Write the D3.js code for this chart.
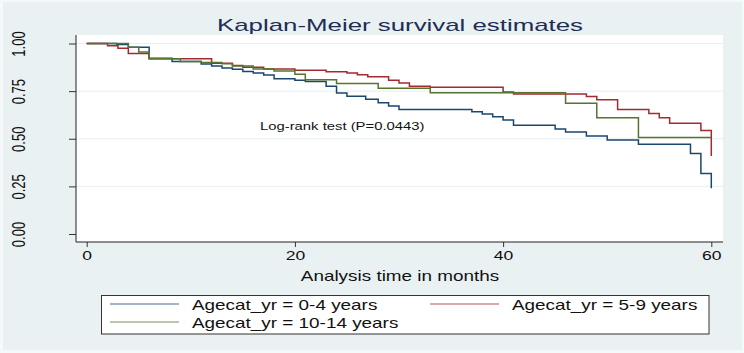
<!DOCTYPE html>
<html lang="en">
<head>
    <meta charset="UTF-8">
    <title>Kaplan-Meier survival estimates</title>
    <script src="https://d3js.org/d3.v7.min.js"></script>
    <style>
        body { margin: 0; background: #f5f9fa; }
        svg { display: block; font-family: "Liberation Sans", Arial, sans-serif; }
        .km-line { fill: none; stroke-width: 1.5; }
        .grid { stroke: #e6eff1; stroke-width: 1; }
    </style>
</head>
<body>
    <div id="chart"></div>

    <script>
        const width = 744, height = 353;

        // survival estimates (time in months, S(t))
        const months04 = [0, 2.9, 4, 6, 8.2, 11, 12, 13, 14, 15, 16, 17, 18, 20, 21, 23, 24, 25, 26.8, 28, 29, 30, 37, 38, 39, 40, 41, 45, 46, 48, 50, 53, 58, 59, 60];
        const surv04 = [1, 0.995, 0.98, 0.922, 0.905, 0.893, 0.882, 0.871, 0.865, 0.853, 0.845, 0.835, 0.815, 0.807, 0.80, 0.775, 0.74, 0.723, 0.707, 0.689, 0.672, 0.654, 0.642, 0.63, 0.616, 0.598, 0.571, 0.551, 0.536, 0.515, 0.493, 0.471, 0.422, 0.317, 0.24];

        const months59 = [0, 2, 3, 4, 6, 12, 14, 15, 17, 20, 23, 25, 26, 27, 29, 30, 31, 33, 40, 41, 48, 49, 51, 54, 55, 56, 59, 60];
        const surv59 = [1, 0.988, 0.975, 0.947, 0.92, 0.896, 0.884, 0.875, 0.866, 0.86, 0.852, 0.845, 0.836, 0.825, 0.807, 0.792, 0.775, 0.77, 0.745, 0.735, 0.722, 0.705, 0.653, 0.633, 0.61, 0.582, 0.543, 0.41];

        const months1014 = [0, 4, 5, 6, 9, 11, 13, 14, 16, 18, 20, 21, 24, 28, 33, 46, 49, 53, 60];
        const surv1014 = [1, 0.98, 0.956, 0.92, 0.906, 0.90, 0.894, 0.882, 0.866, 0.855, 0.838, 0.81, 0.79, 0.765, 0.742, 0.687, 0.61, 0.507, 0.507];

        const groupLabels = ["Agecat_yr = 0-4 years", "Agecat_yr = 5-9 years", "Agecat_yr = 10-14 years"];
        const groupColors = ["#1a476f", "#a32a30", "#55752f"];
        const xTicks = [0, 20, 40, 60];
        const yTicks = [0, 0.25, 0.5, 0.75, 1];

        const series = [
            { label: groupLabels[0], color: groupColors[0], pts: months04.map((t, i) => ({ t, s: surv04[i] })) },
            { label: groupLabels[1], color: groupColors[1], pts: months59.map((t, i) => ({ t, s: surv59[i] })) },
            { label: groupLabels[2], color: groupColors[2], pts: months1014.map((t, i) => ({ t, s: surv1014[i] })) }
        ];

        // the picture is stretched sideways, so text is too
        const sx = 1.35;

        const plot = { left: 76, right: 723, top: 35, bottom: 242 };
        const x = d3.scaleLinear().domain([0, 60]).range([86.7, 711.3]);
        const y = d3.scaleLinear().domain([0, 1]).range([234, 43.5]);

        const svg = d3.select("#chart").append("svg")
            .attr("width", width).attr("height", height);

        // graph region + plot region
        svg.append("rect").attr("x", 3).attr("y", 2).attr("width", 739).attr("height", 348)
            .attr("fill", "#e9f1f3");
        svg.append("rect").attr("x", plot.left).attr("y", plot.top)
            .attr("width", plot.right - plot.left).attr("height", plot.bottom - plot.top)
            .attr("fill", "#fff");

        // gridlines
        svg.selectAll(".grid").data(yTicks.filter(d => d > 0)).enter()
            .append("line").attr("class", "grid")
            .attr("x1", plot.left).attr("x2", plot.right)
            .attr("y1", d => y(d)).attr("y2", d => y(d));

        // title
        svg.append("text")
            .attr("transform", `translate(400,31) scale(1.52,1)`)
            .attr("text-anchor", "middle").attr("font-size", 17).attr("fill", "#1e2d53")
            .text("Kaplan-Meier survival estimates");

        // axes
        const xAxis = svg.append("g").attr("transform", `translate(0,${plot.bottom})`)
            .call(d3.axisBottom(x).tickValues(xTicks).tickSize(5).tickPadding(4));
        xAxis.select(".domain").remove();
        xAxis.selectAll("line").attr("stroke", "#333");
        xAxis.selectAll("text").attr("font-size", 13).attr("fill", "#111")
            .attr("font-family", null)
            .attr("transform", `scale(${sx},1)`);

        const yAxis = svg.append("g").attr("transform", `translate(${plot.left},0)`)
            .call(d3.axisLeft(y).tickValues(yTicks).tickSize(7).tickFormat(d3.format(".2f")));
        yAxis.select(".domain").remove();
        yAxis.selectAll("line").attr("stroke", "#333");
        yAxis.selectAll("text").attr("font-size", 13).attr("fill", "#111")
            .attr("font-family", null)
            .attr("x", 0).attr("dy", 0).attr("text-anchor", "middle")
            .attr("transform", `translate(${25 - plot.left},0) scale(${sx},1) rotate(-90)`);

        svg.append("line").attr("x1", plot.left).attr("x2", plot.left)
            .attr("y1", plot.top).attr("y2", plot.bottom).attr("stroke", "#222");
        svg.append("line").attr("x1", plot.left).attr("x2", plot.right)
            .attr("y1", plot.bottom).attr("y2", plot.bottom).attr("stroke", "#222");

        svg.append("text")
            .attr("transform", `translate(400,281) scale(${sx},1)`)
            .attr("text-anchor", "middle").attr("font-size", 14).attr("fill", "#111")
            .text("Analysis time in months");

        // survival curves
        const line = d3.line().x(d => x(d.t)).y(d => y(d.s)).curve(d3.curveStepAfter);
        svg.selectAll(".km-line").data(series).enter()
            .append("path").attr("class", "km-line")
            .attr("stroke", d => d.color)
            .attr("d", d => line(d.pts));

        svg.append("text")
            .attr("transform", `translate(260,129.5) scale(${sx},1)`)
            .attr("font-size", 11).attr("fill", "#111")
            .text("Log-rank test (P=0.0443)");

        // legend
        svg.append("rect").attr("x", 101.5).attr("y", 295.5).attr("width", 607.5).attr("height", 38.5)
            .attr("fill", "#fff").attr("stroke", "#333").attr("stroke-width", 1);

        const legendPos = [{ x: 110, y: 304 }, { x: 430, y: 304 }, { x: 110, y: 322 }];
        const legend = svg.selectAll(".legend-item").data(series).enter()
            .append("g").attr("class", "legend-item")
            .attr("transform", (d, i) => `translate(${legendPos[i].x},${legendPos[i].y})`);
        legend.append("line").attr("x1", 0).attr("x2", 69).attr("y1", 0).attr("y2", 0)
            .attr("stroke", d => d.color).attr("stroke-width", 1.1).attr("stroke-opacity", 0.8);
        legend.append("text")
            .attr("transform", `translate(82,5.5) scale(${sx},1)`)
            .attr("font-size", 14).attr("fill", "#111")
            .text(d => d.label);
    </script>
</body>
</html>
